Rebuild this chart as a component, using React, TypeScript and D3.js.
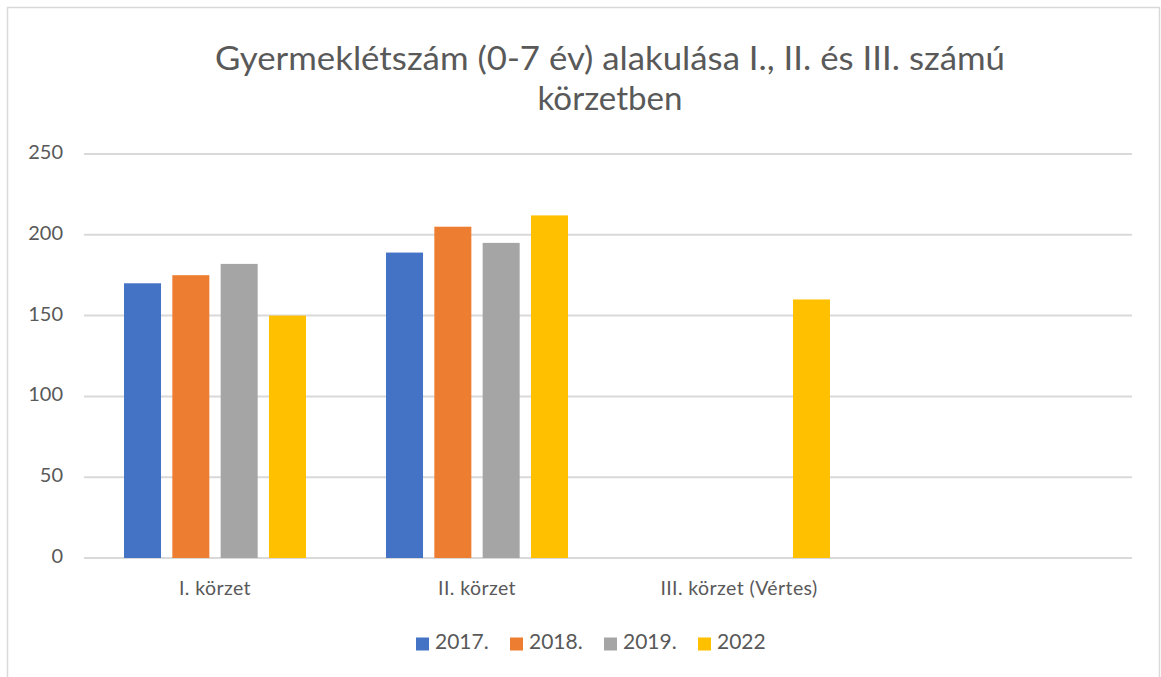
import * as d3 from "d3"
import { useMemo } from "react"

const categories = ["I. körzet", "II. körzet", "III. körzet (Vértes)", ""]
const seriesNames = ["2017.", "2018.", "2019.", "2022"]
const v2017 = [170, 189, null, null]
const v2018 = [175, 205, null, null]
const v2019 = [182, 195, null, null]
const v2022 = [150, 212, 160, null]
const yTicks = [0, 50, 100, 150, 200, 250]
const colors = ["#4472C4", "#ED7D31", "#A5A5A5", "#FFC000"]

const W = 1161
const H = 677
const FONT = "Lato, 'Open Sans', sans-serif"
const TEXT = "#595959"

const App = () => {
    const series = [v2017, v2018, v2019, v2022]

    const x0 = useMemo(() => d3.scaleBand<string>().domain(categories.map((c, i) => String(i))).range([84, 1132]), [])
    const groupW = 182
    const x1 = useMemo(() => d3.scaleBand<string>().domain(seriesNames).range([0, groupW]).paddingInner(0.234), [])
    const y = useMemo(() => d3.scaleLinear().domain([0, 250]).range([558, 154]), [])

    return (
        <svg width={W} height={H} style={{ position: "absolute", left: 0, top: 0, background: "#fff" }}>
            <rect x={7.5} y={7.5} width={1152} height={700} fill="#fff" stroke="#D9D9D9" strokeWidth={1.5} />

            {/* title, stretched a bit to match the wide Calibri look */}
            <text x={610} y={70} textAnchor="middle" fontFamily={FONT} fontSize={32} fill={TEXT} textLength={790} lengthAdjust="spacingAndGlyphs">
                Gyermeklétszám (0-7 év) alakulása I., II. és III. számú
            </text>
            <text x={610} y={110} textAnchor="middle" fontFamily={FONT} fontSize={32} fill={TEXT} textLength={145} lengthAdjust="spacingAndGlyphs">
                körzetben
            </text>

            {yTicks.map((t) => (
                <g key={t}>
                    <line x1={84} x2={1132} y1={y(t)} y2={y(t)} stroke="#D9D9D9" strokeWidth={2} />
                    <text x={63} y={y(t)} textAnchor="end" dominantBaseline="middle" fontFamily={FONT} fontSize={20} fill={TEXT}>
                        {t}
                    </text>
                </g>
            ))}

            {categories.map((c, ci) => {
                const gx = x0(String(ci))! + (x0.bandwidth() - groupW) / 2
                return (
                    <g key={ci}>
                        {series.map((s, si) => {
                            const v = s[ci]
                            if (v == null) return null
                            return (
                                <rect key={si} x={gx + x1(seriesNames[si])!} y={y(v)} width={x1.bandwidth()} height={y(0) - y(v)} fill={colors[si]} />
                            )
                        })}
                        <text x={x0(String(ci))! + x0.bandwidth() / 2} y={590} textAnchor="middle" dominantBaseline="middle" fontFamily={FONT} fontSize={19.5} fill={TEXT} letterSpacing={0.4}>
                            {c}
                        </text>
                    </g>
                )
            })}

            {seriesNames.map((n, i) => (
                <g key={n} transform={`translate(${416 + i * 94}, 644)`}>
                    <rect x={0} y={-6.5} width={13} height={13} fill={colors[i]} />
                    <text x={19} y={0} dominantBaseline="middle" fontFamily={FONT} fontSize={21} fill={TEXT}>
                        {n}
                    </text>
                </g>
            ))}
        </svg>
    )
}

export default App
